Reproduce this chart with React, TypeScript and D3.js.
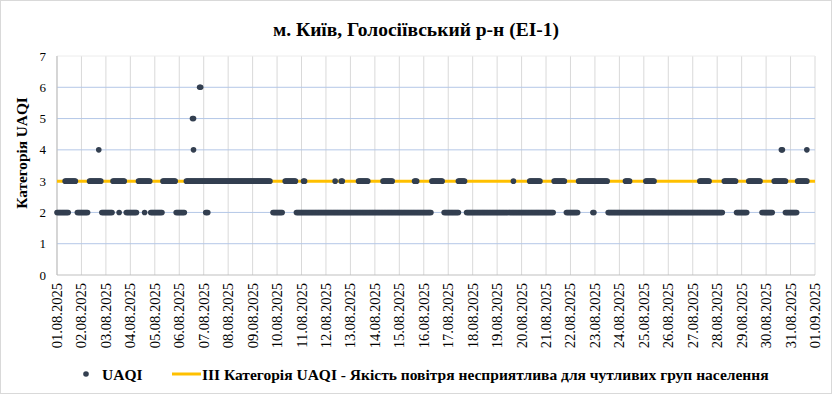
import * as d3 from "d3";

const chartTitle = "м. Київ, Голосіївський р-н (ЕІ-1)";
const yAxisTitle = "Категорія UAQI";
const seriesName = "UAQI";
const thresholdName = "ІІІ Категорія UAQI - Якість повітря несприятлива для чутливих груп населення";

const dateLabels = [
  "01.08.2025", "02.08.2025", "03.08.2025", "04.08.2025", "05.08.2025", "06.08.2025",
  "07.08.2025", "08.08.2025", "09.08.2025", "10.08.2025", "11.08.2025", "12.08.2025",
  "13.08.2025", "14.08.2025", "15.08.2025", "16.08.2025", "17.08.2025", "18.08.2025",
  "19.08.2025", "20.08.2025", "21.08.2025", "22.08.2025", "23.08.2025", "24.08.2025",
  "25.08.2025", "26.08.2025", "27.08.2025", "28.08.2025", "29.08.2025", "30.08.2025",
  "31.08.2025", "01.09.2025",
];
const yTicks = [0, 1, 2, 3, 4, 5, 6, 7];
const thresholdValue = 3;

// hourly readings, as runs [fromHour, toHour] counted from 01.08.2025 00:00
const level2Runs = [
  [0, 11], [20, 30], [44, 54], [61, 61], [68, 78], [86, 86], [92, 103], [117, 125],
  [146, 148], [212, 221], [235, 367], [380, 394], [402, 487], [500, 511], [526, 527],
  [541, 653], [667, 677], [692, 702], [715, 726],
];
const level3Runs = [
  [8, 18], [32, 43], [55, 66], [80, 91], [104, 116], [127, 209], [224, 234], [242, 243],
  [273, 273], [279, 280], [296, 305], [320, 329], [351, 353], [368, 378], [394, 400],
  [448, 448], [464, 474], [488, 498], [512, 540], [558, 562], [578, 586], [631, 640],
  [655, 666], [679, 690], [704, 715], [727, 736],
];
const level4Runs = [[41, 41], [134, 134], [711, 712], [736, 736]];
const level5Runs = [[133, 134]];
const level6Runs = [[140, 141]];

const W = 832, H = 394;
const m = { left: 57, right: 815, top: 56, bottom: 275 };
const font = "'Liberation Serif', 'Times New Roman', serif";

function expand(runs: number[][], value: number) {
  const out: { h: number; v: number }[] = [];
  runs.forEach(([a, b]) => {
    for (let h = a; h <= b; h++) out.push({ h, v: value });
  });
  return out;
}

export default function App() {
  const points = [
    ...expand(level2Runs, 2),
    ...expand(level3Runs, 3),
    ...expand(level4Runs, 4),
    ...expand(level5Runs, 5),
    ...expand(level6Runs, 6),
  ];
  const hours = (dateLabels.length - 1) * 24;
  const x = d3.scaleLinear().domain([0, hours]).range([m.left, m.right]);
  const y = d3.scaleLinear().domain([0, 7]).range([m.bottom, m.top]);
  const line = d3.line<number>().x((h) => x(h)).y(() => y(thresholdValue));

  return (
    <div style={{ position: "fixed", left: 0, top: 0 }}>
      <svg width={W} height={H} style={{ display: "block", fontFamily: font }}>
        <rect x={0.5} y={0.5} width={W - 1} height={H - 1} fill="#fff" stroke="#d9d9d9" />
        <text x={416} y={36} textAnchor="middle" fontSize={19.5} fontWeight="bold" fill="#000">
          {chartTitle}
        </text>

        {/* grid */}
        {dateLabels.map((d, i) => (
          <line key={d} x1={x(i * 24)} x2={x(i * 24)} y1={m.top} y2={m.bottom} stroke="#d9d9d9" />
        ))}
        {yTicks.map((t) => (
          <line
            key={t}
            x1={m.left}
            x2={m.right}
            y1={y(t)}
            y2={y(t)}
            stroke={t === 0 ? "#bfbfbf" : t === 7 ? "#ececec" : "#b4c7e7"}
          />
        ))}
        <line x1={m.left} x2={m.left} y1={m.top} y2={m.bottom} stroke="#bfbfbf" />

        {/* y axis */}
        {yTicks.map((t) => (
          <text key={t} x={46} y={y(t) + 4.5} textAnchor="end" fontSize={13} fill="#000">
            {t}
          </text>
        ))}
        <text
          transform={`translate(27,153) rotate(-90)`}
          textAnchor="middle"
          fontSize={15.3}
          fontWeight="bold"
          fill="#000"
        >
          {yAxisTitle}
        </text>

        {/* x axis labels */}
        {dateLabels.map((d, i) => (
          <text
            key={d}
            transform={`translate(${x(i * 24) + 5},${m.bottom + 8}) rotate(-90)`}
            textAnchor="end"
            fontSize={14.5}
            fill="#000"
          >
            {d}
          </text>
        ))}

        {/* threshold */}
        <path d={line([0, hours]) || ""} stroke="#ffc000" strokeWidth={3} fill="none" />

        {/* UAQI points */}
        {points.map((p, i) => (
          <circle key={i} cx={x(p.h)} cy={y(p.v)} r={2.8} fill="#333f50" />
        ))}

        {/* legend */}
        <circle cx={86} cy={374} r={2.8} fill="#333f50" />
        <text x={102} y={380} fontSize={15.5} fontWeight="bold" fill="#000">
          {seriesName}
        </text>
        <line x1={172} x2={201} y1={374} y2={374} stroke="#ffc000" strokeWidth={3} />
        <text x={202} y={380} fontSize={15.5} fontWeight="bold" fill="#000">
          {thresholdName}
        </text>
      </svg>
    </div>
  );
}
